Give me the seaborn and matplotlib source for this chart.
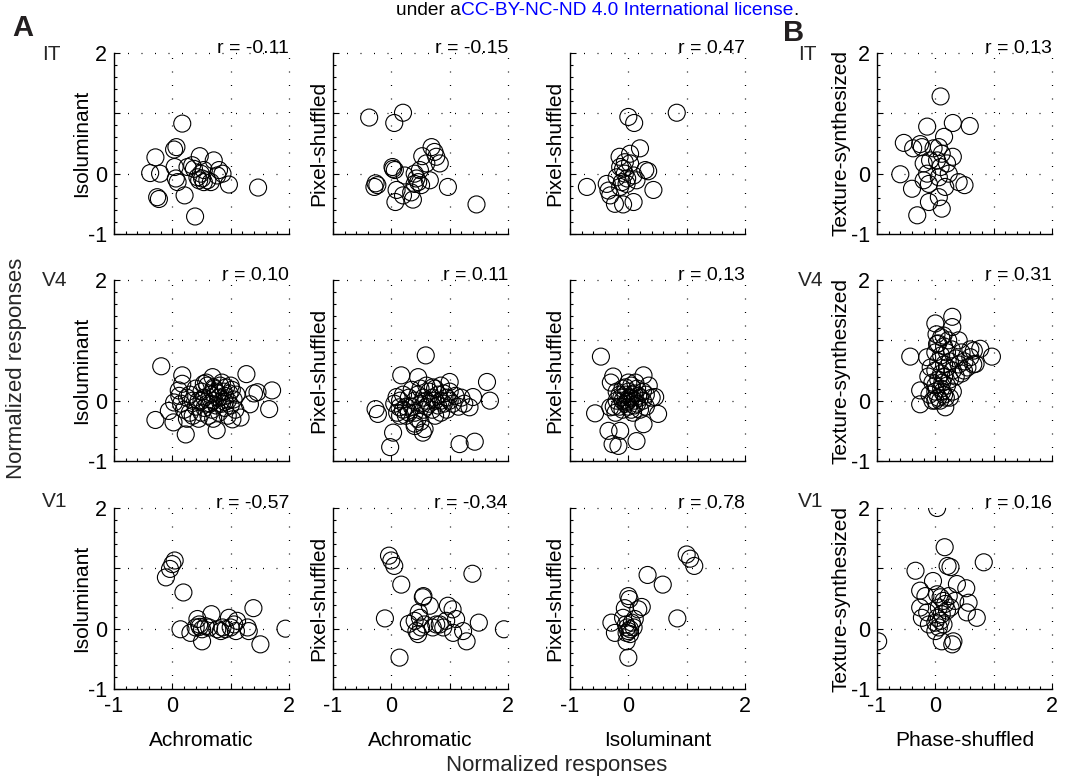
import matplotlib
matplotlib.use("Agg")
import matplotlib.pyplot as plt
from matplotlib.ticker import MultipleLocator
import seaborn as sns
import pandas as pd

sns.set_theme(style="white")
plt.rcParams['font.family'] = ['Liberation Sans', 'DejaVu Sans']

# ---------------- data ----------------
AREAS = ["IT", "V4", "V1"]
X_LABELS = ["Achromatic", "Achromatic", "Isoluminant", "Phase-shuffled"]
Y_LABELS = ["Isoluminant", "Pixel-shuffled", "Pixel-shuffled", "Texture-synthesized"]
R_VALUES = [["-0.11", "-0.15", "0.47", "0.13"],
            ["0.10", "0.11", "0.13", "0.31"],
            ["-0.57", "-0.34", "0.78", "0.16"]]
TICKS = [-1, 0, 1, 2]
TICK_LABELS = ["-1", "0", "", "2"]

# IT
IT_ACH_ISO_X = [0.17, -0.29, -0.38, -0.21, -0.26, -0.23, 0.03, 0.07, 0.04, 0.06, 0.09, 0.21, 0.39, 0.26, 0.37,
                0.47, 0.49, 0.51, 0.46, 0.54, 0.43, 0.60, 0.71, 0.80, 0.86, 0.77, 0.97, 1.47, 0.66, 0.34, 0.54]
IT_ACH_ISO_Y = [0.83, 0.27, 0.01, 0.00, -0.39, -0.42, 0.40, 0.44, 0.11, -0.08, -0.14, -0.36, -0.71, 0.11, 0.08,
                0.29, 0.00, -0.08, -0.11, -0.14, -0.06, -0.11, 0.22, 0.06, 0.00, -0.03, -0.18, -0.23, -0.14, 0.14, 0.06]
IT_ACH_PIX_X = [-0.38, 0.05, 0.20, -0.27, -0.24, -0.29, 0.03, 0.06, 0.02, 0.09, 0.07, 0.20, 0.37, 0.34, 0.40,
                0.43, 0.46, 0.40, 0.49, 0.53, 0.60, 0.69, 0.74, 0.77, 0.83, 0.66, 0.97, 1.46, 0.51, 0.23]
IT_ACH_PIX_Y = [0.93, 0.84, 1.01, -0.16, -0.19, -0.22, 0.08, 0.06, 0.11, -0.27, -0.47, -0.36, -0.43, -0.31, 0.00,
                -0.08, -0.14, -0.17, 0.06, 0.29, 0.17, 0.44, 0.36, 0.28, 0.17, -0.11, -0.22, -0.51, -0.19, -0.03]
IT_ISO_PIX_X = [0.00, 0.10, 0.83, -0.71, -0.37, -0.34, -0.31, -0.23, -0.09, 0.09, -0.15, 0.03, 0.20, -0.14,
                -0.09, -0.06, -0.02, -0.11, -0.14, 0.09, 0.29, 0.34, 0.43, -0.06, 0.03, -0.20, -0.03, 0.14]
IT_ISO_PIX_Y = [0.94, 0.84, 1.01, -0.22, -0.17, -0.28, -0.36, -0.50, -0.51, -0.47, 0.28, 0.33, 0.42, 0.11,
                0.08, 0.00, -0.08, -0.14, -0.22, -0.03, 0.06, 0.04, -0.27, 0.19, 0.17, -0.06, -0.17, -0.11]
IT_PHA_TEX_X = [0.09, -0.14, 0.30, 0.59, -0.54, -0.38, -0.26, -0.23, 0.15, -0.03, 0.06, 0.11, 0.30, -0.20,
                -0.09, 0.03, 0.09, 0.20, -0.60, -0.14, -0.20, -0.11, -0.40, 0.06, 0.17, 0.40, 0.50, -0.11,
                0.06, 0.11, -0.31, 0.23]
IT_PHA_TEX_Y = [1.28, 0.78, 0.84, 0.79, 0.51, 0.42, 0.49, 0.44, 0.61, 0.42, 0.44, 0.33, 0.28, 0.17,
                0.22, 0.22, 0.11, 0.17, -0.01, 0.00, -0.11, -0.17, -0.25, -0.06, -0.22, -0.14, -0.19, -0.47,
                -0.39, -0.58, -0.69, 0.00]

# V4
V4_ACH_ISO_X = [-0.19, -0.29, 0.02, 0.23, 0.76, 1.27, 1.66, 1.71, 1.40, 1.46, 1.33, 1.17, 1.03, 0.17, 0.17,
                0.11, -0.06, 0.03, 0.69, 0.54, 0.71,
                0.15, 0.20, 0.25, 0.30, 0.30, 0.35, 0.40, 0.40, 0.45, 0.45, 0.50, 0.50, 0.55, 0.55, 0.60,
                0.60, 0.62, 0.65, 0.68, 0.70, 0.72, 0.75, 0.78, 0.80, 0.80, 0.82, 0.85, 0.88, 0.90, 0.90,
                0.92, 0.95, 0.95, 0.98, 1.00, 1.02, 1.05, 1.08, 1.10, 0.25, 0.12, 0.58, 0.70, 0.85, 1.00,
                0.35, 0.65, 0.75, 0.50, 0.90]
V4_ACH_ISO_Y = [0.57, -0.32, -0.36, -0.56, -0.49, 0.44, -0.14, 0.17, 0.12, 0.14, -0.06, -0.28, -0.31, 0.42, 0.28,
                0.17, -0.17, -0.03, 0.39, 0.28, 0.22,
                -0.05, -0.15, 0.05, -0.20, 0.10, -0.25, -0.10, 0.20, -0.30, 0.00, -0.20, 0.15, 0.05, -0.12, 0.25,
                -0.05, -0.25, 0.10, -0.15, 0.00, 0.20, -0.08, 0.12, -0.20, 0.05, 0.25, -0.05, 0.15, -0.12, 0.08,
                0.22, 0.00, -0.25, 0.12, -0.08, 0.18, 0.02, -0.15, 0.10, -0.30, 0.08, 0.30, -0.30, 0.30, 0.25,
                0.00, -0.05, 0.15, 0.00, -0.02]
V4_ACH_PIX_X = [-0.27, -0.23, -0.02, 0.03, 0.17, 0.46, 0.59, 0.40, 0.54, 0.57, 1.17, 1.43, 1.64, 1.69, 1.34,
                1.40, 1.00, 0.71, 0.09, 0.14,
                0.05, 0.10, 0.15, 0.20, 0.25, 0.25, 0.30, 0.30, 0.35, 0.40, 0.40, 0.45, 0.50, 0.50, 0.55,
                0.55, 0.60, 0.60, 0.65, 0.65, 0.70, 0.70, 0.75, 0.75, 0.80, 0.80, 0.85, 0.85, 0.90, 0.90,
                0.95, 0.95, 1.00, 1.00, 1.05, 1.10, 1.15, 1.20, 0.20, 0.35, 0.45, 0.60, 0.85, 1.25, 0.15,
                0.75, 0.50, 0.40]
V4_ACH_PIX_Y = [-0.14, -0.22, -0.77, -0.53, 0.42, 0.39, 0.75, -0.42, -0.53, -0.47, -0.72, -0.68, 0.31, 0.00, -0.11,
                0.06, 0.31, 0.22, 0.06, -0.11,
                -0.05, -0.20, 0.00, -0.15, -0.10, -0.25, 0.05, -0.20, -0.10, 0.00, -0.20, 0.10, -0.05, 0.20, -0.15,
                0.05, 0.00, -0.10, 0.15, -0.05, 0.05, -0.15, 0.00, 0.20, -0.08, 0.10, 0.00, -0.20, 0.12, -0.05,
                0.05, -0.15, 0.00, 0.15, -0.05, 0.08, -0.10, 0.05, 0.10, 0.18, -0.30, 0.25, 0.25, -0.05, -0.25,
                -0.25, -0.35, -0.38]
V4_ISO_PIX_X = [-0.47, -0.57, -0.34, -0.27, -0.17, -0.14, 0.14, 0.26, 0.51, 0.46, 0.26, -0.26, -0.31,
                -0.20, -0.15, -0.15, -0.10, -0.10, -0.10, -0.05, -0.05, 0.00, 0.00, 0.00, 0.05, 0.05, 0.05,
                0.10, 0.10, 0.10, 0.15, 0.15, 0.20, 0.20, 0.25, 0.25, 0.30, 0.30, -0.25, -0.20, 0.00, 0.08,
                -0.05, 0.12, 0.35, 0.40, -0.30, -0.22, 0.02, -0.02, 0.07, 0.17, -0.12]
V4_ISO_PIX_Y = [0.73, -0.21, -0.50, -0.72, -0.75, -0.50, -0.67, -0.39, -0.22, 0.06, 0.42, 0.40, -0.11,
                0.00, 0.10, -0.10, 0.20, 0.00, -0.15, 0.10, -0.05, 0.00, 0.15, -0.10, 0.05, -0.15, 0.25,
                0.00, 0.12, -0.08, 0.20, -0.05, 0.05, -0.15, 0.15, 0.00, 0.10, -0.10, -0.10, 0.15, 0.30, -0.20,
                0.22, 0.30, 0.25, 0.05, 0.30, -0.20, 0.05, -0.02, 0.10, 0.08, 0.05]
V4_PHA_TEX_X = [-0.43, 0.97, 0.77, 0.66, 0.60, 0.69, 0.49, 0.29, 0.29, 0.00, 0.14, 0.03, 0.40, -0.14, -0.26,
                0.17, -0.26,
                -0.10, -0.05, -0.05, 0.00, 0.00, 0.00, 0.05, 0.05, 0.05, 0.05, 0.10, 0.10, 0.10, 0.10, 0.15,
                0.15, 0.15, 0.15, 0.20, 0.20, 0.20, 0.25, 0.25, 0.30, 0.30, 0.35, 0.40, 0.45, 0.50, 0.55,
                0.00, 0.08, 0.12, 0.18, -0.08, -0.12, 0.22, 0.02, 0.28, 0.35, 0.60, 0.65, 0.45, 0.00, 0.12,
                0.25]
V4_PHA_TEX_Y = [0.73, 0.73, 0.86, 0.83, 0.72, 0.61, 0.50, 1.39, 1.22, 1.28, 1.08, 0.94, 1.00, 0.72, -0.06,
                -0.11, 0.17,
                0.10, 0.00, 0.30, 0.15, 0.50, 0.80, 0.05, 0.35, 0.65, 0.95, 0.20, 0.45, 0.75, 1.05, 0.10,
                0.40, 0.60, 0.90, 0.25, 0.55, 0.80, 0.35, 0.65, 0.50, 0.15, 0.40, 0.60, 0.45, 0.65, 0.55,
                0.25, 0.00, 0.30, 0.05, 0.55, 0.40, 1.00, 1.10, 0.85, 0.70, 0.85, 0.60, 0.80, 0.00, 0.15,
                0.05]

# V1
V1_ACH_ISO_X = [-0.11, -0.04, 0.00, 0.04, 0.19, 0.14, 0.31, 0.43, 0.46, 0.51, 0.51, 0.57, 0.63, 0.67, 0.77,
                0.86, 0.91, 0.97, 1.00, 1.06, 1.09, 1.11, 1.29, 1.31, 1.39, 1.51, 1.94, 0.40, 0.47, 0.83]
V1_ACH_ISO_Y = [0.85, 0.99, 1.07, 1.13, 0.60, -0.01, -0.07, 0.16, 0.07, -0.01, -0.21, 0.04, 0.02, 0.24, -0.01,
                0.02, -0.01, 0.18, 0.02, 0.07, -0.04, 0.13, 0.02, -0.04, 0.34, -0.26, 0.00, 0.02, 0.03, -0.04]
V1_ACH_PIX_X = [-0.04, 0.00, 0.05, 0.17, 1.39, -0.11, 0.14, 0.30, 0.40, 0.47, 0.49, 0.46, 0.51, 0.55, 0.54,
                0.66, 0.57, 0.71, 0.77, 0.83, 0.89, 0.94, 0.97, 1.05, 1.11, 1.06, 1.23, 1.29, 1.50, 1.93, 0.43]
V1_ACH_PIX_Y = [1.21, 1.13, 1.04, 0.73, 0.91, 0.17, -0.48, 0.08, 0.13, 0.27, 0.18, -0.09, 0.02, 0.54, 0.52,
                0.38, 0.07, 0.02, 0.07, 0.07, 0.02, 0.13, 0.38, 0.32, 0.16, -0.07, -0.04, -0.21, 0.10, -0.01, -0.04]
V1_ISO_PIX_X = [1.00, 1.06, 1.13, 0.33, 0.59, 0.84, 0.00, 0.00, 0.02, -0.06, 0.23, 0.17, -0.29, -0.23, -0.03,
                0.03, -0.02, -0.04, 0.06, 0.11, -0.09, 0.00, 0.03, -0.03, 0.09]
V1_ISO_PIX_Y = [1.23, 1.16, 1.04, 0.89, 0.73, 0.17, -0.48, 0.54, 0.49, 0.34, 0.36, 0.32, 0.10, -0.07, -0.21,
                -0.09, 0.02, 0.07, 0.10, 0.16, 0.18, -0.04, -0.01, -0.07, 0.02]
V1_PHA_TEX_X = [0.03, 0.16, 0.21, 0.26, 0.83, -0.34, -0.98, -0.04, -0.26, -0.17, 0.37, 0.53, 0.57, 0.71, 0.54,
                0.31, 0.29, 0.11, 0.00, -0.11, -0.23, -0.26, -0.14,
                0.03, 0.09, 0.14, 0.06, 0.11, 0.17, 0.23, 0.03, 0.09, 0.14, 0.20, 0.26, 0.34, 0.06, 0.00]
V1_PHA_TEX_Y = [2.00, 1.35, 1.04, 1.02, 1.10, 0.96, -0.21, 0.79, 0.63, 0.54, 0.74, 0.67, 0.43, 0.18, 0.27,
                -0.21, -0.26, -0.21, -0.04, 0.07, 0.18, 0.35, 0.27,
                0.57, 0.52, 0.46, 0.35, 0.24, 0.41, 0.54, 0.18, 0.13, 0.07, 0.30, 0.35, 0.46, 0.02, 0.10]

PANELS = [
    [(IT_ACH_ISO_X, IT_ACH_ISO_Y), (IT_ACH_PIX_X, IT_ACH_PIX_Y), (IT_ISO_PIX_X, IT_ISO_PIX_Y), (IT_PHA_TEX_X, IT_PHA_TEX_Y)],
    [(V4_ACH_ISO_X, V4_ACH_ISO_Y), (V4_ACH_PIX_X, V4_ACH_PIX_Y), (V4_ISO_PIX_X, V4_ISO_PIX_Y), (V4_PHA_TEX_X, V4_PHA_TEX_Y)],
    [(V1_ACH_ISO_X, V1_ACH_ISO_Y), (V1_ACH_PIX_X, V1_ACH_PIX_Y), (V1_ISO_PIX_X, V1_ISO_PIX_Y), (V1_PHA_TEX_X, V1_PHA_TEX_Y)],
]

# ---------------- layout ----------------
W, H = 1081, 778
fig = plt.figure(figsize=(W / 100, H / 100), dpi=100)
col_left = [114, 333, 570, 877]
row_top = [53, 280, 508]
aw, ah = 175, 181
ylab_off = [-0.13, -0.03, -0.03, -0.15]

TICK_FS = 15.5
R_FS = 14
LAB_FS = 15
BIG_FS = 16

for r in range(3):
    for c in range(4):
        ax = fig.add_axes([col_left[c] / W, 1 - (row_top[r] + ah) / H, aw / W, ah / H])
        xs, ys = PANELS[r][c]
        df = pd.DataFrame({"x": xs, "y": ys})
        sns.scatterplot(data=df, x="x", y="y", ax=ax, s=150, marker="o",
                        facecolors="none", edgecolor="black", linewidth=0.8, zorder=3)
        ax.set_xlim(-1, 2)
        ax.set_ylim(-1, 2)
        ax.set_xticks(TICKS)
        ax.set_yticks(TICKS)
        ax.xaxis.set_minor_locator(MultipleLocator(0.2))
        ax.yaxis.set_minor_locator(MultipleLocator(0.2))
        ax.tick_params(which="both", direction="in", color="black", width=0.8,
                       labelsize=TICK_FS, labelcolor="black")
        ax.tick_params(which="major", length=4, pad=5)
        ax.tick_params(which="minor", length=2.5)
        ax.tick_params(left=True, bottom=True)
        ax.tick_params(which="minor", left=True, bottom=True)
        for s in ["top", "right"]:
            ax.spines[s].set_visible(False)
        for s in ["left", "bottom"]:
            ax.spines[s].set_color("black")
            ax.spines[s].set_linewidth(1.0)
        ax.set_facecolor("white")
        for v in [0, 1, 2]:
            ax.axvline(v, color="black", lw=0.9, linestyle=(0, (0.8, 10)), zorder=1, clip_on=False)
            ax.axhline(v, color="black", lw=0.9, linestyle=(0, (0.8, 10)), zorder=1, clip_on=False)
        if c in (0, 3):
            ax.set_yticklabels(TICK_LABELS)
        else:
            ax.set_yticklabels([])
        if r == 2:
            ax.set_xticklabels(TICK_LABELS)
            ax.set_xlabel(X_LABELS[c], fontsize=LAB_FS, color="black", labelpad=10)
        else:
            ax.set_xticklabels([])
            ax.set_xlabel("")
        ax.set_ylabel(Y_LABELS[c], fontsize=LAB_FS, color="black")
        ax.yaxis.set_label_coords(ylab_off[c], 0.5)
        ax.text(1.0, 1.0, "r = " + R_VALUES[r][c], transform=ax.transAxes, ha="right",
                va="baseline", fontsize=R_FS, color="black")

# region labels
area_base = [60, 286, 507]
for r in range(3):
    fig.text(42 / W, 1 - area_base[r] / H, AREAS[r], fontsize=LAB_FS, ha="left", va="baseline")
    fig.text(798 / W, 1 - area_base[r] / H, AREAS[r], fontsize=LAB_FS, ha="left", va="baseline")

# panel letters
fig.text(12 / W, 1 - 36 / H, "A", fontsize=21, fontweight="bold", ha="left", va="baseline", color="#231f20")
fig.text(783 / W, 1 - 41 / H, "B", fontsize=21, fontweight="bold", ha="left", va="baseline", color="#231f20")

# common labels
fig.text(17 / W, 1 - 368 / H, "Normalized responses", rotation=90, fontsize=BIG_FS, ha="center", va="center")
fig.text(557 / W, 1 - 765 / H, "Normalized responses", fontsize=BIG_FS, ha="center", va="center")

# licence line
LIC_FS = 13.8
base_y = 1 - 15 / H
fig.text(461 / W, base_y, "under a", fontsize=LIC_FS, ha="right", va="baseline", color="black")
blue = fig.text(461 / W, base_y, "CC-BY-NC-ND 4.0 International license", fontsize=LIC_FS, ha="left",
                va="baseline", color="#0000ff")
renderer = fig.canvas.get_renderer()
bb = blue.get_window_extent(renderer=renderer)
fig.text(bb.x1 / W, base_y, ".", fontsize=LIC_FS, ha="left", va="baseline", color="black")

fig.savefig("out.png", dpi=100, facecolor="white")
